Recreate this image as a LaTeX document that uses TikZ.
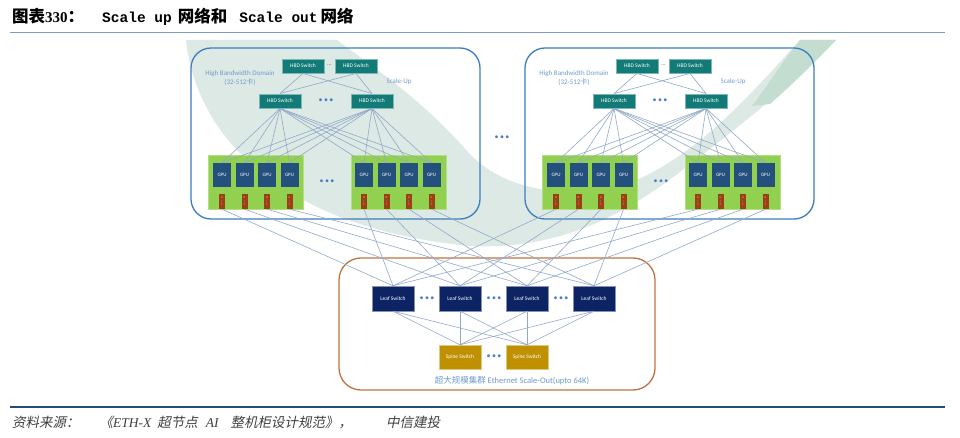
\documentclass[tikz,border=0pt]{standalone}
\usepackage{fontspec}
\setmainfont{Carlito}
\newfontfamily\cjk{Noto Sans CJK SC}
\newfontfamily\cjkit{Noto Sans CJK SC}[FakeSlant=0.2]
\newfontfamily\titleserif{Liberation Serif}
\newfontfamily\titlemono{Liberation Mono}

\definecolor{hbdcol}{HTML}{137B77}
\definecolor{gpucol}{HTML}{24507E}
\definecolor{boardcol}{HTML}{92D050}
\definecolor{niccol}{HTML}{9E3E17}
\definecolor{leafcol}{HTML}{0C2463}
\definecolor{spinecol}{HTML}{BF9000}
\definecolor{linkcol}{HTML}{91A9C9}
\definecolor{upcol}{HTML}{3B7DBE}
\definecolor{outcol}{HTML}{C27240}
\definecolor{labelcol}{HTML}{6F9BCF}
\definecolor{dotcol}{HTML}{4A7CC4}
\definecolor{markcol}{HTML}{DDE9E4}
\definecolor{markgreen}{HTML}{C4DDD1}
\definecolor{rulecol}{HTML}{7E9CC0}
\definecolor{footcol}{HTML}{1F4E79}

\begin{document}
\begin{tikzpicture}[x=1pt, y=-1pt,
  hbd/.style={draw=hbdcol!55!white, fill=hbdcol, text=white, minimum width=42pt,
    minimum height=14.5pt, inner sep=0pt, font=\fontsize{5.5}{6}\selectfont},
  gpu/.style={fill=gpucol, text=white, minimum width=18pt, minimum height=24pt,
    inner sep=0pt, font=\fontsize{5}{6}\selectfont},
  nic/.style={fill=niccol, text=white!75!niccol, minimum width=6pt, minimum height=15pt,
    inner sep=0pt, align=center, font=\fontsize{2.6}{3.6}\selectfont},
  board/.style={fill=boardcol, draw=boardcol!70!white, minimum width=95pt,
    minimum height=54pt, inner sep=0pt},
  leaf/.style={draw=leafcol!50!white, fill=leafcol, text=white, minimum width=42pt,
    minimum height=25pt, inner sep=0pt, font=\fontsize{5.5}{6}\selectfont},
  spine/.style={draw=spinecol!50!white, fill=spinecol, text=white, minimum width=42pt,
    minimum height=24pt, inner sep=0pt, font=\fontsize{5.5}{6}\selectfont},
  link/.style={draw=linkcol, line width=0.6pt},
  dots/.style={text=dotcol, inner sep=0pt, font=\fontsize{8}{8}\selectfont},
  tag/.style={text=labelcol, align=center, inner sep=0pt, font=\fontsize{7}{9}\selectfont}]

  \useasboundingbox (0,0) rectangle (960,438);
  \fill[white] (0,0) rectangle (960,438);

  % watermark in the background
  \fill[markcol] (186,40) .. controls (198,150) and (300,230) .. (470,246)
    .. controls (560,250) and (625,215) .. (685,168)
    .. controls (745,122) and (800,78) .. (836,40)
    -- (800,40) .. controls (750,95) and (690,165) .. (615,188)
    .. controls (545,200) and (495,182) .. (468,152)
    .. controls (422,100) and (380,72) .. (337,40) -- cycle;
  \fill[markgreen] (836,40) .. controls (815,62) and (795,82) .. (770,104)
    -- (752,106) .. controls (768,85) and (782,62) .. (800,40) -- cycle;

  % header and footer
  \node[anchor=west, inner sep=0pt] (title) at (12,17) {%
    {\fontsize{16.5}{18}\selectfont\cjk\bfseries 图表}%
    {\fontsize{15}{18}\selectfont\titleserif\bfseries 330}%
    {\fontsize{16.5}{18}\selectfont\cjk\bfseries ：}\hspace{18pt}%
    {\fontsize{14.5}{18}\selectfont\titlemono\bfseries Scale up}\hspace{6pt}%
    {\fontsize{16.5}{18}\selectfont\cjk\bfseries 网络和}\hspace{12pt}%
    {\fontsize{14.5}{18}\selectfont\titlemono\bfseries Scale out}\hspace{3pt}%
    {\fontsize{16.5}{18}\selectfont\cjk\bfseries 网络}};
  \draw[rulecol, line width=0.8pt] (10,32) -- (945,32);
  \draw[footcol, line width=1.6pt] (10,407) -- (945,407);
  \node[anchor=west, inner sep=0pt, text=black!75] (source) at (12,423) {%
    \fontsize{13.5}{15}\selectfont
    {\cjkit 资料来源：}\hspace{20pt}{\cjkit 《}{\titleserif\itshape ETH-X}\hspace{6pt}%
    {\cjkit 超节点}\hspace{8pt}{\titleserif\itshape AI}\hspace{12pt}%
    {\cjkit 整机柜设计规范》，}\hspace{34pt}{\cjkit 中信建投}};

  % scale-up domains
  \foreach \d/\sx in {1/0, 2/334} {
    \begin{scope}[xshift=\sx pt]
      \draw[upcol, line width=1.3pt, rounded corners=20pt] (191,48) rectangle (480,219);
      \node[board] (board-\d-1) at (255.5,182) {};
      \node[board] (board-\d-2) at (399,182) {};
      \foreach \b/\bx in {1/222, 2/364} {
        \foreach \g in {1,...,4} {
          \node[gpu] (gpu-\d-\b-\g) at ({\bx+22.5*(\g-1)},175) {GPU};
          \node[nic] (nic-\d-\b-\g) at ({\bx+22.5*(\g-1)},201.5) {N\\I\\C};
        }
      }
      \node[hbd] (top-\d-1) at (303,66) {HBD Switch};
      \node[hbd] (top-\d-2) at (356,66) {HBD Switch};
      \node[hbd] (mid-\d-1) at (280,101) {HBD Switch};
      \node[hbd] (mid-\d-2) at (372,101) {HBD Switch};
      \node[inner sep=0pt, text=black!60, font=\fontsize{6}{6}\selectfont] at (329.5,65) {…};
      \node[dots] at (326,101) {\textbullet\,\textbullet\,\textbullet};
      \node[dots] at (327,182) {\textbullet\,\textbullet\,\textbullet};
      \node[tag] (hbd-\d) at (240,78) {High Bandwidth Domain\\(32-512{\cjk 卡})};
      \node[tag] (up-\d) at (399,82) {Scale-Up};
      \foreach \i in {1,2} {
        \foreach \j in {1,2}
          \draw[link] (top-\d-\i.south) -- (mid-\d-\j.north);
        \foreach \b in {1,2}
          \foreach \g in {1,...,4}
            \draw[link] (mid-\d-\i.south) -- (gpu-\d-\b-\g.north);
      }
    \end{scope}
  }
  \node[dots] at (502,138) {\textbullet\,\textbullet\,\textbullet};

  % scale-out network
  \draw[outcol, line width=1.3pt, rounded corners=22pt] (339,258) rectangle (655,390);
  \foreach \l in {1,...,4}
    \node[leaf] (leaf-\l) at ({393+67*(\l-1)},298.5) {Leaf Switch};
  \node[spine] (spine-1) at (460,357) {Spine Switch};
  \node[spine] (spine-2) at (527,357) {Spine Switch};
  \foreach \x in {427,494,561}
    \node[dots] at (\x,298.5) {\textbullet\,\textbullet\,\textbullet};
  \node[dots] at (494,357) {\textbullet\,\textbullet\,\textbullet};
  \node[tag, font=\fontsize{8.5}{10}\selectfont] (out) at (512,381)
    {{\cjk 超大规模集群} Ethernet Scale-Out(upto 64K)};

  \foreach \l in {1,...,4}
    \foreach \s in {1,2}
      \draw[link] (leaf-\l.south) -- (spine-\s.north);
  \foreach \d in {1,2}
    \foreach \b in {1,2}
      \foreach \g in {1,...,4}
        \draw[link] (nic-\d-\b-\g.south) -- (leaf-\g.north);
\end{tikzpicture}
\end{document}
